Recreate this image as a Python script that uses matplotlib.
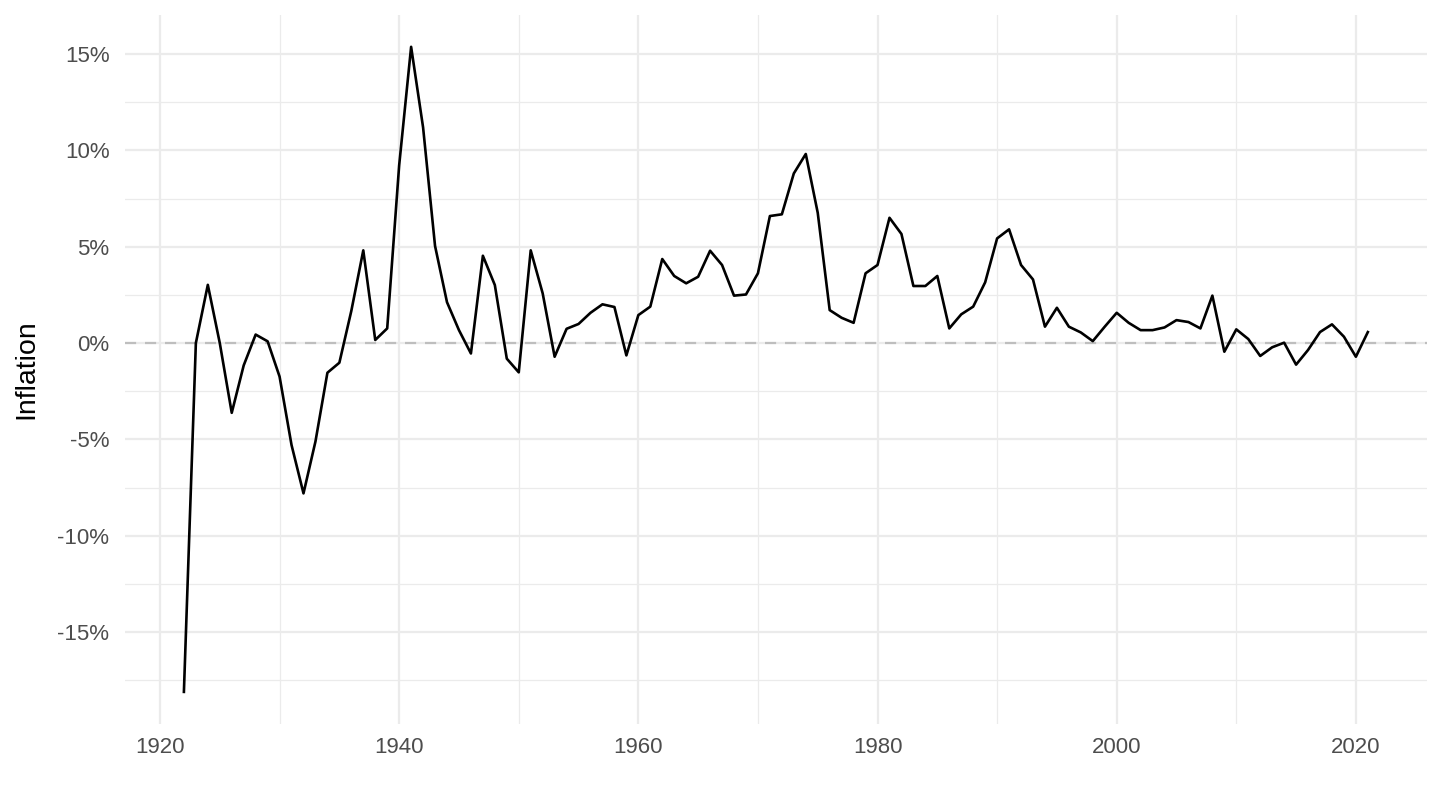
import matplotlib
matplotlib.use("Agg")
import matplotlib.pyplot as plt
from matplotlib.ticker import FuncFormatter, MultipleLocator

plt.rcParams['font.family'] = ['Liberation Sans', 'DejaVu Sans']

# Annual inflation, in percent, 1922-2021
years = list(range(1922, 2022))
inflation = [
    -18.1, 0.0, 3.02, 0.0, -3.62, -1.16, 0.44, 0.09, -1.74, -5.29,
    -7.80, -5.11, -1.54, -1.02, 1.67, 4.81, 0.16, 0.76, 9.22, 15.37,
    11.19, 5.04, 2.12, 0.67, -0.54, 4.53, 3.01, -0.81, -1.52, 4.81,
    2.58, -0.71, 0.74, 0.99, 1.57, 2.01, 1.87, -0.64, 1.45, 1.89,
    4.36, 3.48, 3.10, 3.44, 4.79, 4.05, 2.46, 2.52, 3.62, 6.59,
    6.68, 8.80, 9.81, 6.76, 1.71, 1.31, 1.05, 3.62, 4.05, 6.50,
    5.66, 2.96, 2.96, 3.48, 0.76, 1.49, 1.89, 3.15, 5.43, 5.90,
    4.05, 3.30, 0.85, 1.83, 0.85, 0.55, 0.10, 0.85, 1.57, 1.05,
    0.67, 0.67, 0.81, 1.19, 1.09, 0.76, 2.46, -0.45, 0.71, 0.21,
    -0.67, -0.22, 0.02, -1.12, -0.36, 0.57, 0.97, 0.33, -0.71, 0.57,
]

fig = plt.figure(figsize=(14.4, 8.1), dpi=100)
ax = fig.add_axes([0.0866, 0.106, 0.9044, 0.876])

# ggplot-like minimal theme
for s in ax.spines.values():
    s.set_visible(False)
ax.set_axisbelow(True)
ax.xaxis.set_major_locator(MultipleLocator(20))
ax.xaxis.set_minor_locator(MultipleLocator(10))
ax.yaxis.set_major_locator(MultipleLocator(5))
ax.yaxis.set_minor_locator(MultipleLocator(2.5))
ax.grid(which='major', color='#EBEBEB', linewidth=1.6)
ax.grid(which='minor', color='#EBEBEB', linewidth=0.9)
ax.tick_params(which='both', length=0)
ax.tick_params(axis='both', labelsize=16, labelcolor='#4D4D4D')
ax.tick_params(axis='y', pad=11)
ax.tick_params(axis='x', pad=9)
ax.yaxis.set_major_formatter(FuncFormatter(lambda v, p: f"{v:.0f}%"))

ax.axhline(0, color='#BEBEBE', linewidth=1.6, linestyle=(0, (5, 4)))
ax.plot(years, inflation, color='black', linewidth=1.9)

span_y = max(inflation) - min(inflation)
ax.set_ylim(min(inflation) - 0.05 * span_y, max(inflation) + 0.05 * span_y)
span_x = years[-1] - years[0]
ax.set_xlim(years[0] - 0.05 * span_x, years[-1] + 0.05 * span_x)

ax.set_ylabel('Inflation', fontsize=20.5, color='black')
ax.yaxis.label.set_verticalalignment('center')
ax.yaxis.set_label_coords(-0.0758, 0.5)

fig.savefig('out.png', dpi=100)
